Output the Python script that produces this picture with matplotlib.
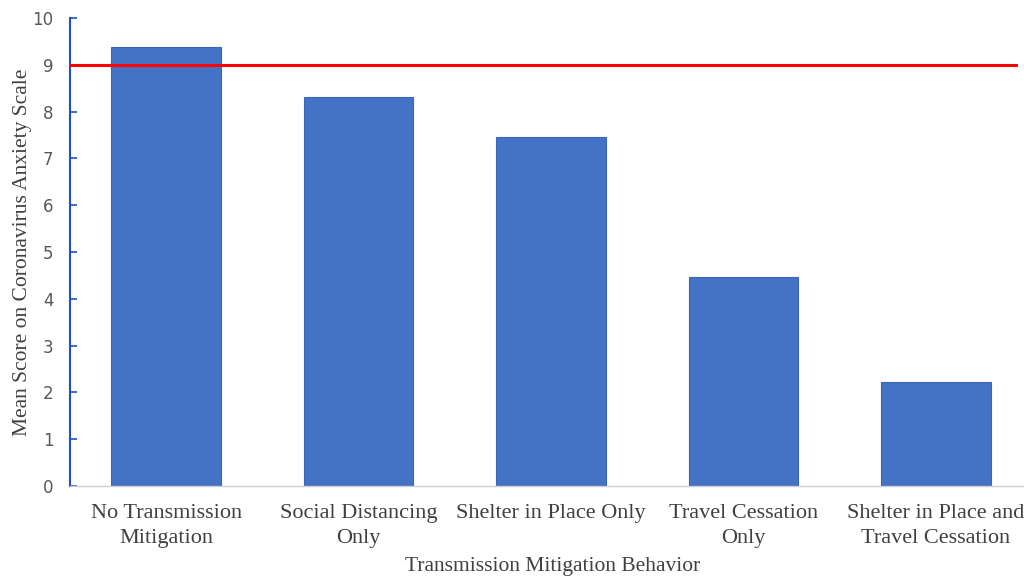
import matplotlib.pyplot as plt

CATEGORIES = [
    "No Transmission\nMitigation",
    "Social Distancing\nOnly",
    "Shelter in Place Only",
    "Travel Cessation\nOnly",
    "Shelter in Place and\nTravel Cessation",
]
MEAN_SCORES = [9.38, 8.31, 7.46, 4.47, 2.22]
CUTOFF = 9
Y_TICKS = list(range(0, 11))


def main() -> None:
    fig = plt.figure(figsize=(10.24, 5.77), dpi=100)
    ax = fig.add_axes([70 / 1024, 1 - 486 / 577, 962 / 1024, 468 / 577])

    x = list(range(len(CATEGORIES)))
    ax.bar(x, MEAN_SCORES, width=0.57, color="#4472C4", edgecolor="#3A66B8", linewidth=0.8, zorder=2)
    ax.axhline(CUTOFF, xmin=0, xmax=(1016 - 70) / 962, color="#FF0000", linewidth=2.2, zorder=3)

    ax.set_xlim(-0.5, 4.5)
    ax.set_ylim(0, 10)
    ax.set_yticks(Y_TICKS)
    ax.set_xticks(x)
    ax.set_xticklabels(CATEGORIES, family="Liberation Serif", fontsize=16, color="#404040", linespacing=1.4)
    ax.tick_params(axis="y", direction="in", length=5, width=1.2, color="#1F4FD0", labelsize=12,
                   labelcolor="#595959", pad=12)
    ax.tick_params(axis="x", length=0, pad=13)

    for side in ("top", "right"):
        ax.spines[side].set_visible(False)
    ax.spines["left"].set_color("#1F4FD0")
    ax.spines["left"].set_linewidth(1.5)
    ax.spines["bottom"].set_color("#D0D0D0")
    ax.spines["bottom"].set_linewidth(1.0)

    ax.set_ylabel("Mean Score on Coronavirus Anxiety Scale", family="Liberation Serif", fontsize=15.5,
                  color="#404040")
    ax.set_xlabel("Transmission Mitigation Behavior", family="Liberation Serif", fontsize=15.5,
                  color="#404040")
    ax.xaxis.set_label_coords((553 - 70) / 962, -(557 - 486) / 468)
    ax.yaxis.set_label_coords(-(70 - 32) / 962, 0.5)

    fig.savefig("out.png", dpi=100)
    plt.close(fig)


if __name__ == "__main__":
    main()
